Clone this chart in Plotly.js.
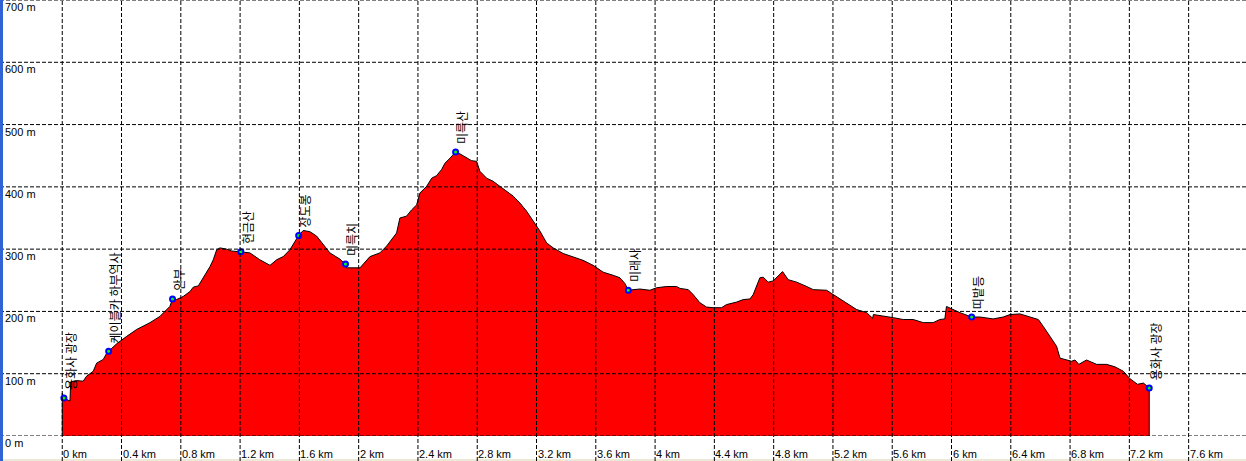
<!DOCTYPE html>
<html>
<head>
<meta charset="utf-8">
<script src="https://cdn.plot.ly/plotly-3.0.1.min.js"></script>
<style>
  html, body { margin: 0; padding: 0; background: #ffffff; }
  #chart { width: 1246px; height: 461px; }
</style>
</head>
<body>
<div id="chart"></div>
<script>
// Distance along the track (km) and elevation (m)
const distKm = [
  0.000, 0.011, 0.052, 0.057, 0.097, 0.141, 0.164, 0.209, 0.232, 0.277,
  0.300, 0.313, 0.367, 0.435, 0.502, 0.592, 0.659, 0.726, 0.744, 0.771,
  0.816, 0.862, 0.884, 0.918, 0.952, 0.997, 1.019, 1.042, 1.064, 1.109,
  1.143, 1.205, 1.266, 1.333, 1.402, 1.447, 1.491, 1.536, 1.595, 1.626,
  1.671, 1.716, 1.761, 1.806, 1.873, 1.911, 1.918, 2.009, 2.076, 2.143,
  2.189, 2.256, 2.278, 2.323, 2.357, 2.391, 2.413, 2.459, 2.493, 2.526,
  2.560, 2.582, 2.616, 2.654, 2.683, 2.728, 2.762, 2.796, 2.818, 2.863,
  2.907, 2.952, 2.998, 3.043, 3.088, 3.133, 3.178, 3.223, 3.268, 3.313,
  3.380, 3.447, 3.514, 3.582, 3.650, 3.717, 3.763, 3.796, 3.819, 3.897,
  3.965, 4.010, 4.078, 4.145, 4.168, 4.224, 4.257, 4.302, 4.347, 4.392,
  4.448, 4.482, 4.550, 4.595, 4.640, 4.662, 4.685, 4.707, 4.730, 4.763,
  4.797, 4.830, 4.860, 4.898, 4.955, 5.023, 5.067, 5.157, 5.225, 5.293,
  5.360, 5.428, 5.468, 5.473, 5.540, 5.607, 5.674, 5.742, 5.809, 5.876,
  5.921, 5.955, 5.966, 6.000, 6.057, 6.136, 6.192, 6.281, 6.349, 6.395,
  6.462, 6.530, 6.586, 6.619, 6.664, 6.709, 6.732, 6.777, 6.810, 6.833,
  6.859, 6.911, 6.979, 7.047, 7.103, 7.159, 7.204, 7.255, 7.295, 7.334
];
const elevM = [
  69, 61, 56, 87, 89, 88, 96, 104, 117, 123,
  133, 136, 148, 160, 171, 182, 192, 208, 220, 219,
  224, 232, 239, 241, 254, 272, 283, 299, 302, 300,
  297, 296, 294, 283, 274, 283, 288, 299, 322, 330,
  328, 321, 307, 294, 284, 276, 270, 270, 288, 294,
  305, 326, 350, 353, 363, 371, 390, 401, 414, 418,
  428, 438, 446, 456, 453, 446, 442, 441, 425, 414,
  409, 401, 393, 385, 374, 361, 345, 329, 310, 302,
  293, 287, 282, 274, 263, 258, 254, 245, 234, 236,
  234, 238, 240, 240, 237, 235, 227, 214, 207, 206,
  206, 211, 215, 219, 220, 227, 240, 254, 255, 247,
  249, 257, 264, 251, 247, 240, 235, 234, 224, 214,
  203, 198, 189, 195, 193, 190, 187, 187, 182, 182,
  187, 188, 208, 204, 198, 191, 191, 188, 191, 195,
  196, 191, 187, 176, 160, 144, 125, 122, 120, 122,
  115, 122, 115, 115, 111, 104, 92, 83, 85, 77
];

// Waypoints
const wpNames = ['용화사 광장', '케이블카 하부역사', '안부', '현금산', '장도봉', '미륵치', '미륵산', '미래사', '띠밭등', '용화사 광장'];
const wpDist  = [0.011, 0.313, 0.744, 1.205, 1.595, 1.911, 2.654, 3.819, 6.136, 7.334];
const wpElev  = [61, 136, 220, 296, 322, 276, 456, 234, 191, 77];

// Axis ticks
const xTickVals   = [0, 0.4, 0.8, 1.2, 1.6, 2, 2.4, 2.8, 3.2, 3.6, 4, 4.4, 4.8, 5.2, 5.6, 6, 6.4, 6.8, 7.2, 7.6];
const xTickLabels = ['0 km', '0.4 km', '0.8 km', '1.2 km', '1.6 km', '2 km', '2.4 km', '2.8 km', '3.2 km', '3.6 km', '4 km', '4.4 km', '4.8 km', '5.2 km', '5.6 km', '6 km', '6.4 km', '6.8 km', '7.2 km', '7.6 km'];
const yTickVals   = [0, 100, 200, 300, 400, 500, 600, 700];
const yTickLabels = ['0 m', '100 m', '200 m', '300 m', '400 m', '500 m', '600 m', '700 m'];

const MARGIN_B = 25;
const PLOT_H = 461 - MARGIN_B;
const LABEL_FONT = { family: 'Liberation Sans, Arial, sans-serif', size: 11, color: '#000000' };
const GRID = { color: '#000000', width: 1, dash: '4px,2px' };

// Profile closed down to 0 at both ends (vertical edges)
const profX = [distKm[0]].concat(distKm, [distKm[distKm.length - 1]]);
const profY = [0].concat(elevM, [0]);

const traces = [
  {
    type: 'scatter', mode: 'lines',
    x: profX, y: profY,
    fill: 'tozeroy', fillcolor: '#FF0000',
    line: { color: '#000000', width: 1 },
    hoverinfo: 'skip'
  },
  {
    type: 'scatter', mode: 'markers',
    x: wpDist, y: wpElev,
    marker: { size: 5, color: '#00FF00', line: { color: '#0000FF', width: 2 } },
    hoverinfo: 'skip'
  }
];

const shapes = [];
xTickVals.forEach(v => shapes.push({
  type: 'line', layer: 'above', xref: 'x', yref: 'paper',
  x0: v, x1: v, y0: -MARGIN_B / PLOT_H, y1: 1, line: GRID
}));
yTickVals.forEach(v => shapes.push({
  type: 'line', layer: 'above', xref: 'paper', yref: 'y',
  x0: 0, x1: 1, y0: v, y1: v, line: GRID
}));
// window-frame decorations
shapes.push({ type: 'rect', layer: 'above', xref: 'paper', yref: 'paper',
  x0: 0, x1: 3 / 1246, y0: -MARGIN_B / PLOT_H, y1: 1,
  line: { width: 0 }, fillcolor: '#2F63D6' });
shapes.push({ type: 'rect', layer: 'below', xref: 'paper', yref: 'paper',
  x0: 0, x1: 1, y0: -MARGIN_B / PLOT_H, y1: -(MARGIN_B - 2) / PLOT_H,
  line: { width: 0 }, fillcolor: '#ECE9D8' });

const annotations = [];
yTickVals.forEach((v, i) => annotations.push({
  xref: 'paper', yref: 'y', x: 0, y: v, xanchor: 'left', yanchor: 'top',
  xshift: 3, yshift: 1, text: yTickLabels[i], showarrow: false, font: LABEL_FONT
}));
xTickVals.forEach((v, i) => annotations.push({
  xref: 'x', yref: 'paper', x: v, y: 0, xanchor: 'left', yanchor: 'top',
  xshift: -1, yshift: -10, text: xTickLabels[i], showarrow: false, font: LABEL_FONT
}));
wpNames.forEach((n, i) => annotations.push({
  xref: 'x', yref: 'y', x: wpDist[i], y: wpElev[i],
  xanchor: 'center', yanchor: 'bottom', xshift: 6, yshift: 6,
  textangle: -90, text: n, showarrow: false,
  font: { family: 'Noto Sans CJK KR, sans-serif', size: 12, color: '#000000' }
}));

const layout = {
  width: 1246, height: 461,
  margin: { l: 0, r: 0, t: 0, b: MARGIN_B, pad: 0 },
  paper_bgcolor: '#FFFFFF', plot_bgcolor: '#FFFFFF',
  showlegend: false, hovermode: false, dragmode: false,
  xaxis: { range: [-0.420, 7.987], showgrid: false, zeroline: false, showline: false,
           showticklabels: false, ticks: '', fixedrange: true },
  yaxis: { range: [0, 700], showgrid: false, zeroline: false, showline: false,
           showticklabels: false, ticks: '', fixedrange: true },
  shapes: shapes,
  annotations: annotations
};

Plotly.newPlot('chart', traces, layout, { staticPlot: true, displayModeBar: false });
</script>
</body>
</html>
